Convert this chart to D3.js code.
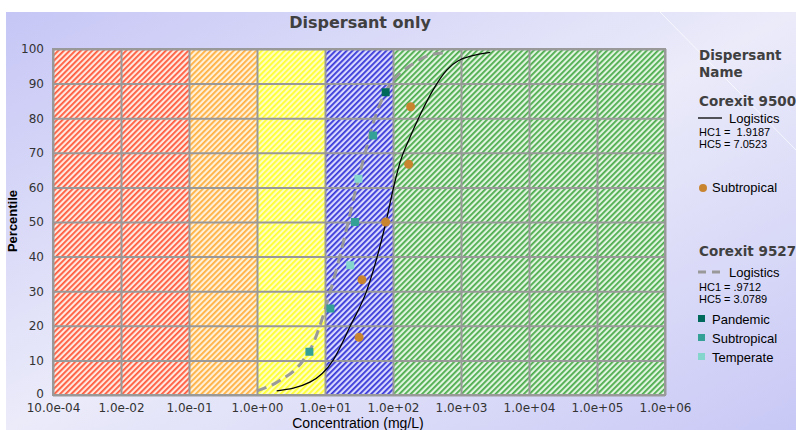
<!DOCTYPE html>
<html>
<head>
<meta charset="utf-8">
<script src="https://cdn.jsdelivr.net/npm/d3@7"></script>
<style>
  html, body { margin: 0; padding: 0; background: #fff; }
  svg { display: block; }
  text { white-space: pre; }
</style>
</head>
<body>
<svg id="chart" width="796" height="430"></svg>
<script>
// chart values
const titleText = "Dispersant only";
const xTicks = [1e-3, 1e-2, 1e-1, 1e0, 1e1, 1e2, 1e3, 1e4, 1e5, 1e6];
const xTickLabels = ["10.0e-04", "1.0e-02", "1.0e-01", "1.0e+00", "1.0e+01", "1.0e+02", "1.0e+03", "1.0e+04", "1.0e+05", "1.0e+06"];
const yTicks = [0, 10, 20, 30, 40, 50, 60, 70, 80, 90, 100];

// hazard bands along the concentration axis
const bandFrom = [1e-3, 1e-1, 1e0, 1e1, 1e2];
const bandTo = [1e-1, 1e0, 1e1, 1e2, 1e6];
const bandNames = ["red", "orange", "yellow", "blue", "green"];

// Corexit 9500
const c9500FitConc = [1.95, 6.0, 13.2, 23.6, 41, 59, 79, 102, 126, 178, 251, 389, 617, 912, 2700];
const c9500FitPct = [1.2, 3.7, 10.1, 20, 30.1, 40.2, 50.1, 60, 67, 74.5, 81, 88.2, 93.9, 96.6, 99];
const c9500SubConc = [31.7, 35, 78, 170, 182];
const c9500SubPct = [16.7, 33.3, 50, 66.7, 83.3];

// Corexit 9527
const c9527FitConc = [1.0, 2.05, 4.8, 6.9, 8.4, 12, 16.5, 22, 29, 39, 51, 81, 113, 200, 350, 578];
const c9527FitPct = [1.2, 3.9, 10.1, 15.4, 20, 30, 40, 50.1, 60.2, 70, 78.5, 88.2, 92, 95.8, 98.3, 98.9];
const c9527PanConc = [78];
const c9527PanPct = [87.5];
const c9527SubConc = [5.9, 12, 27.6, 51];
const c9527SubPct = [12.5, 25, 50, 75];
const c9527TempConc = [23.5, 31];
const c9527TempPct = [37.5, 62.5];

const colors = {
  sub9500: "#c98430",
  pandemic: "#00695c",
  sub9527: "#35a096",
  temperate: "#84d6cc",
  fit9527: "#999999"
};
const bandStyle = {
  red: {bg: "#ffe8e0", fg: "#ff5a3c"},
  orange: {bg: "#fff0d8", fg: "#ffb040"},
  yellow: {bg: "#ffffc0", fg: "#ffff30"},
  blue: {bg: "#d8d8ff", fg: "#3838d8"},
  green: {bg: "#e0f4e0", fg: "#4cac4c"}
};

const svg = d3.select("#chart");
const defs = svg.append("defs");

// page background
const bg = defs.append("linearGradient").attr("id", "bgGrad")
  .attr("x1", "0").attr("y1", "0").attr("x2", "1").attr("y2", "1");
bg.append("stop").attr("offset", "0").attr("stop-color", "#c6c6f6");
bg.append("stop").attr("offset", "0.5").attr("stop-color", "#ebebfa");
bg.append("stop").attr("offset", "1").attr("stop-color", "#c8c8f6");
svg.append("rect").attr("x", 6).attr("y", 12).attr("width", 790).attr("height", 418)
  .attr("fill", "url(#bgGrad)");
svg.append("line").attr("x1", 660).attr("y1", 12).attr("x2", 796).attr("y2", 150)
  .attr("stroke", "#ffffff").attr("stroke-opacity", 0.7).attr("stroke-width", 1);

// hatch patterns
bandNames.forEach(function(n) {
  const p = defs.append("pattern").attr("id", "hatch-" + n)
    .attr("patternUnits", "userSpaceOnUse").attr("width", 4).attr("height", 4)
    .attr("patternTransform", "rotate(45)");
  p.append("rect").attr("width", 4).attr("height", 4).attr("fill", bandStyle[n].bg);
  p.append("rect").attr("x", 0).attr("y", 0).attr("width", 1.8).attr("height", 4).attr("fill", bandStyle[n].fg);
});

const margin = {top: 49, left: 53};
const width = 612, height = 346;

const x = d3.scaleLog().domain([1e-3, 1e6]).range([0, width]);
const y = d3.scaleLinear().domain([0, 100]).range([height, 0]);

const g = svg.append("g").attr("transform", "translate(" + margin.left + "," + margin.top + ")");

defs.append("clipPath").attr("id", "plotClip")
  .append("rect").attr("width", width).attr("height", height);

g.selectAll(".band")
  .data(bandNames)
  .enter().append("rect")
    .attr("class", "band")
    .attr("x", function(d, i) { return x(bandFrom[i]); })
    .attr("y", 0)
    .attr("width", function(d, i) { return x(bandTo[i]) - x(bandFrom[i]); })
    .attr("height", height)
    .attr("fill", function(d) { return "url(#hatch-" + d + ")"; });

// grid
g.append("g")
  .call(d3.axisBottom(x).tickValues(xTicks).tickSize(height).tickFormat(""))
  .call(function(s) {
    s.select(".domain").remove();
    s.selectAll("line").attr("stroke", "#999").attr("stroke-width", 2);
  });
g.append("g")
  .call(d3.axisLeft(y).tickValues(yTicks).tickSize(-width).tickFormat(""))
  .call(function(s) {
    s.select(".domain").remove();
    s.selectAll("line").attr("stroke", "#999").attr("stroke-width", 2);
  });
g.append("rect").attr("width", width).attr("height", height)
  .attr("fill", "none").attr("stroke", "#999").attr("stroke-width", 2);

// tick labels
g.append("g")
  .attr("transform", "translate(0," + height + ")")
  .call(d3.axisBottom(x).tickValues(xTicks).tickSize(0).tickPadding(8)
    .tickFormat(function(d, i) { return xTickLabels[i]; }))
  .call(function(s) {
    s.select(".domain").remove();
    s.selectAll("text").attr("font-family", "DejaVu Sans, Verdana, sans-serif")
      .attr("font-size", 12).attr("fill", "#333");
  });
g.append("g")
  .call(d3.axisLeft(y).tickValues(yTicks).tickSize(0).tickPadding(9))
  .call(function(s) {
    s.select(".domain").remove();
    s.selectAll("text").attr("font-family", "DejaVu Sans, Verdana, sans-serif")
      .attr("font-size", 12).attr("fill", "#333")
      .attr("dy", function(d) { return d === 0 ? "0.2em" : "0.32em"; });
  });

// curves
const line = d3.line()
  .x(function(d) { return x(d[0]); })
  .y(function(d) { return y(d[1]); })
  .curve(d3.curveMonotoneX);

const plot = g.append("g").attr("clip-path", "url(#plotClip)");

plot.append("path")
  .datum(c9527FitConc.map(function(c, i) { return [c, c9527FitPct[i]]; }))
  .attr("d", line)
  .attr("fill", "none").attr("stroke", colors.fit9527)
  .attr("stroke-width", 3).attr("stroke-dasharray", "10,6");

plot.append("path")
  .datum(c9500FitConc.map(function(c, i) { return [c, c9500FitPct[i]]; }))
  .attr("d", line)
  .attr("fill", "none").attr("stroke", "#000").attr("stroke-width", 1.3);

function squares(conc, pct, color) {
  plot.selectAll(null)
    .data(conc.map(function(c, i) { return [c, pct[i]]; }))
    .enter().append("rect")
      .attr("x", function(d) { return x(d[0]) - 4; })
      .attr("y", function(d) { return y(d[1]) - 4; })
      .attr("width", 8).attr("height", 8)
      .attr("fill", color);
}
squares(c9527SubConc, c9527SubPct, colors.sub9527);
squares(c9527TempConc, c9527TempPct, colors.temperate);
squares(c9527PanConc, c9527PanPct, colors.pandemic);

plot.selectAll(null)
  .data(c9500SubConc.map(function(c, i) { return [c, c9500SubPct[i]]; }))
  .enter().append("circle")
    .attr("cx", function(d) { return x(d[0]); })
    .attr("cy", function(d) { return y(d[1]); })
    .attr("r", 4.5)
    .attr("fill", colors.sub9500);

// titles
svg.append("text").attr("x", 360).attr("y", 28).attr("text-anchor", "middle")
  .attr("font-family", "DejaVu Sans, Verdana, sans-serif").attr("font-weight", "bold")
  .attr("font-size", 16).attr("fill", "#404040").text(titleText);
svg.append("text").attr("x", 358).attr("y", 428).attr("text-anchor", "middle")
  .attr("font-family", "Liberation Sans, Arial, sans-serif")
  .attr("font-size", 14).attr("fill", "#000").text("Concentration (mg/L)");
svg.append("text").attr("transform", "translate(17,221)rotate(-90)").attr("text-anchor", "middle")
  .attr("font-family", "Liberation Sans, Arial, sans-serif").attr("font-weight", "bold")
  .attr("font-size", 13).attr("fill", "#000").text("Percentile");

// legend
const leg = svg.append("g").attr("font-family", "Liberation Sans, Arial, sans-serif");
function legHead(txt, yy) {
  leg.append("text").attr("x", 699).attr("y", yy)
    .attr("font-family", "DejaVu Sans, Verdana, sans-serif").attr("font-weight", "bold")
    .attr("font-size", 13.5).attr("fill", "#404040").text(txt);
}
function legText(txt, xx, yy, size) {
  leg.append("text").attr("x", xx).attr("y", yy).attr("font-size", size).attr("fill", "#000").text(txt);
}
legHead("Dispersant", 60);
legHead("Name", 77);
legHead("Corexit 9500", 106);
leg.append("line").attr("x1", 698).attr("x2", 722).attr("y1", 118).attr("y2", 118)
  .attr("stroke", "#000").attr("stroke-width", 1.3);
legText("Logistics", 729, 123, 13);
legText("HC1 =  1.9187", 699, 136, 11);
legText("HC5 = 7.0523", 699, 148, 11);
leg.append("circle").attr("cx", 703).attr("cy", 188).attr("r", 4).attr("fill", colors.sub9500);
legText("Subtropical", 712, 192, 13);

legHead("Corexit 9527", 256);
leg.append("line").attr("x1", 698).attr("x2", 722).attr("y1", 272).attr("y2", 272)
  .attr("stroke", colors.fit9527).attr("stroke-width", 3).attr("stroke-dasharray", "8,6");
legText("Logistics", 729, 277, 13);
legText("HC1 = .9712", 699, 291, 11);
legText("HC5 = 3.0789", 699, 303, 11);
[["Pandemic", colors.pandemic, 319], ["Subtropical", colors.sub9527, 338], ["Temperate", colors.temperate, 357]]
  .forEach(function(e) {
    leg.append("rect").attr("x", 698).attr("y", e[2] - 4).attr("width", 7).attr("height", 7).attr("fill", e[1]);
    legText(e[0], 712, e[2] + 4.5, 13);
  });
</script>
</body>
</html>
